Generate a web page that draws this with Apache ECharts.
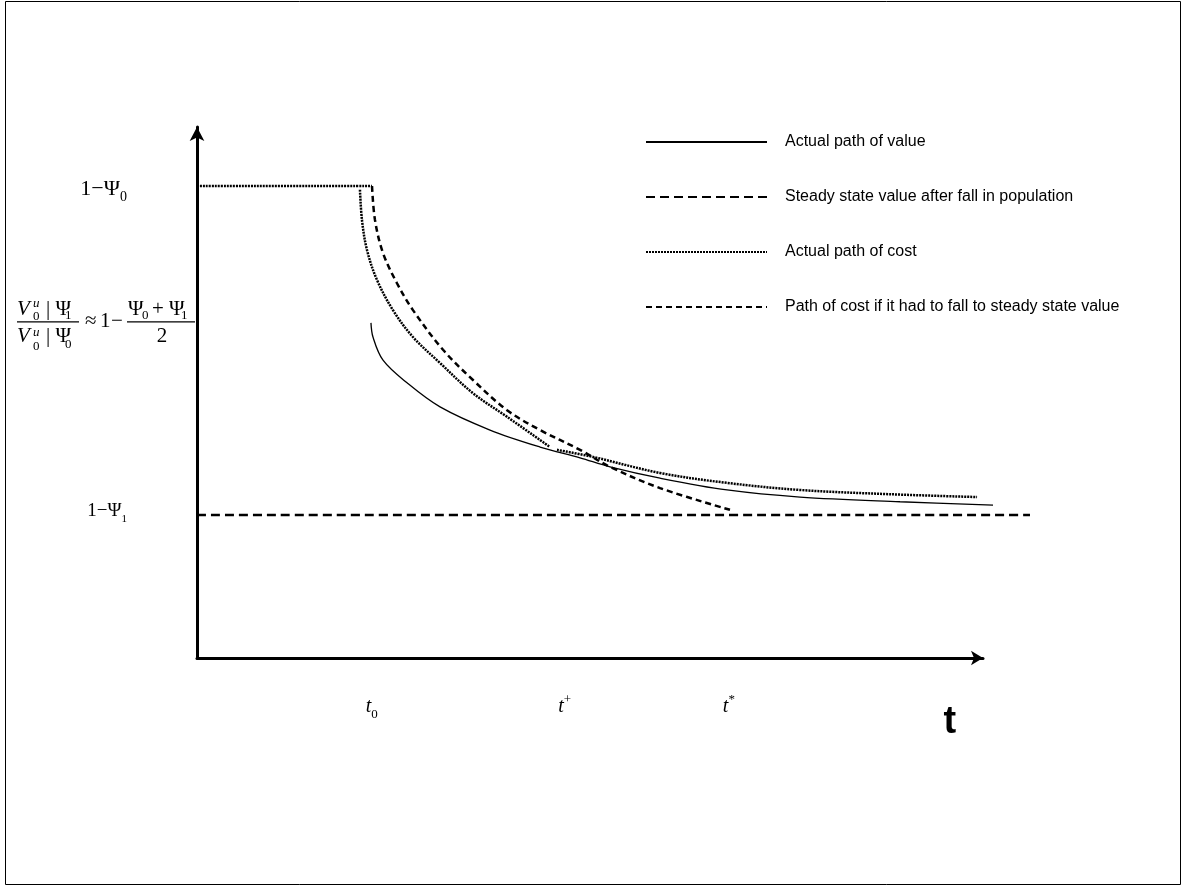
<!DOCTYPE html>
<html><head><meta charset="utf-8">
<script src="https://cdn.jsdelivr.net/npm/echarts@6/dist/echarts.min.js"></script>
<style>html,body{margin:0;padding:0;background:#fff}#c{width:1183px;height:890px}</style>
</head><body><div id="c"></div>
<script>
// ---- data (t in schematic time units, value/cost as share of output) ----
const seriesNames = [
  'Actual path of value',
  'Steady state value after fall in population',
  'Actual path of cost',
  'Path of cost if it had to fall to steady state value'
];
const valueT = [1.992, 2.015, 2.130, 2.405, 2.783, 3.355, 3.928, 4.386, 4.729, 5.302, 6.069, 6.905, 8.050, 9.115];
const valueV = [0.710, 0.680, 0.631, 0.583, 0.532, 0.483, 0.447, 0.424, 0.405, 0.381, 0.356, 0.341, 0.331, 0.324];
const steadyT = [0, 9.538];
const steadyV = [0.303, 0.303];
const costFlatT = [0, 2.004];
const costFlatV = [1.0, 1.0];
const costFallT = [1.866, 1.889, 1.947, 2.061, 2.244, 2.473, 2.783, 3.160, 3.550, 4.042];
const costFallV = [0.992, 0.928, 0.864, 0.801, 0.737, 0.680, 0.625, 0.561, 0.511, 0.447];
const costTailT = [4.122, 4.535, 5.302, 6.069, 6.905, 7.935, 8.932];
const costTailV = [0.441, 0.426, 0.392, 0.371, 0.356, 0.347, 0.341];
const hypoT = [2.004, 2.038, 2.130, 2.290, 2.473, 2.817, 3.160, 3.550, 3.928, 4.386, 4.729, 5.302, 6.103];
const hypoV = [1.000, 0.928, 0.858, 0.794, 0.737, 0.653, 0.589, 0.525, 0.483, 0.441, 0.405, 0.360, 0.314];

const xMax = 9;          // end of the drawn time axis (arrow tip)
const xMaxData = 9.7;    // the plotted paths run a little past the arrow
const yMax = 1.125;
const xTickValues = [2.0, 4.21, 6.09, 8.62];
const xTickLabels = ['{t|t}{sub|0}', '{t|t}{sup|+}', '{t|t}{sup|*}', '{big|t}'];
const yTickValues = [0.993, 0.311];
const yTickLabels = ['{a|1−Ψ}{s|0}', '{b|1−Ψ}{s2|1}'];
const fracLabelValue = 0.712;

const zip = (a, b) => a.map((v, i) => [v, b[i]]);

const chart = echarts.init(document.getElementById('c'), null, {renderer: 'canvas'});
const serif = '"Liberation Serif", "Times New Roman", serif';
const sans = '"Liberation Sans", Arial, sans-serif';

// layout of the axes box
const W = 1183, gLeft = 197, gTop = 127, gBottom = 232, gRight = 200;
const unitPx = (W - gLeft - gRight) / xMax;
const gRightData = W - gLeft - xMaxData * unitPx;

function lineSeries(name, data, lineStyle) {
  return {
    name, type: 'line', data, symbol: 'none', showSymbol: false, smooth: 0.35,
    xAxisIndex: 1, yAxisIndex: 1,
    clip: false, animation: false, silent: true,
    lineStyle: Object.assign({color: '#000'}, lineStyle),
    itemStyle: {color: 'rgba(0,0,0,0)', borderWidth: 0}
  };
}

const option = {
  backgroundColor: '#fff',
  animation: false,
  grid: [
    {left: gLeft, top: gTop, right: gRight, bottom: gBottom, containLabel: false, outerBoundsMode: 'none'},
    {left: gLeft, top: gTop, right: gRightData, bottom: gBottom, containLabel: false, outerBoundsMode: 'none'}
  ],
  legend: {
    data: seriesNames,
    orient: 'vertical', left: 645, top: 134, padding: 0,
    itemWidth: 121, itemHeight: 14, itemGap: 39,
    selectedMode: false,
    itemStyle: {opacity: 0},
    textStyle: {fontFamily: sans, fontSize: 16, color: '#000', padding: [0, 0, 0, 13]}
  },
  xAxis: [{
    type: 'value', min: 0, max: xMax, gridIndex: 0,
    splitLine: {show: false}, axisTick: {show: false},
    axisLine: {show: true, onZero: false, symbol: ['none', 'arrow'], symbolSize: [11, 12],
      lineStyle: {color: '#000', width: 3}},
    axisLabel: {
      customValues: xTickValues, margin: 35, color: '#000',
      formatter: v => { const i = xTickValues.findIndex(x => Math.abs(x - v) < 1e-6); return i >= 0 ? xTickLabels[i] : ''; },
      rich: {
        t: {fontFamily: serif, fontStyle: 'italic', fontSize: 20, lineHeight: 28, color: '#000'},
        sub: {fontFamily: serif, fontSize: 13, lineHeight: 13, verticalAlign: 'bottom', color: '#000'},
        sup: {fontFamily: serif, fontSize: 13, lineHeight: 13, verticalAlign: 'top', color: '#000'},
        big: {fontFamily: sans, fontWeight: 'bold', fontSize: 38, lineHeight: 60, color: '#000'}
      }
    }
  }, {
    type: 'value', min: 0, max: xMaxData, gridIndex: 1, show: false
  }],
  yAxis: [{
    type: 'value', min: 0, max: yMax, gridIndex: 0,
    splitLine: {show: false}, axisTick: {show: false},
    axisLine: {show: true, onZero: false, symbol: ['none', 'arrow'], symbolSize: [11, 14],
      lineStyle: {color: '#000', width: 3}},
    axisLabel: {
      customValues: yTickValues, margin: 70, color: '#000',
      formatter: v => { const i = yTickValues.findIndex(x => Math.abs(x - v) < 1e-6); return i >= 0 ? yTickLabels[i] : ''; },
      rich: {
        a: {fontFamily: serif, fontSize: 22, lineHeight: 30, color: '#000'},
        b: {fontFamily: serif, fontSize: 19, lineHeight: 26, color: '#000'},
        s: {fontFamily: serif, fontSize: 14, lineHeight: 14, verticalAlign: 'bottom', color: '#000'},
        s2: {fontFamily: serif, fontSize: 11, lineHeight: 11, verticalAlign: 'bottom', color: '#000'}
      }
    }
  }, {
    type: 'value', min: 0, max: yMax, gridIndex: 1, show: false
  }],
  series: [
    lineSeries(seriesNames[0], zip(valueT, valueV), {width: 1.3, type: 'solid'}),
    lineSeries(seriesNames[1], zip(steadyT, steadyV), {width: 2.5, type: [9, 5]}),
    lineSeries(seriesNames[2], zip(costFlatT, costFlatV), {width: 2.5, type: [2, 1]}),
    lineSeries(seriesNames[2], zip(costFallT, costFallV), {width: 2.5, type: [2, 1]}),
    lineSeries(seriesNames[2], zip(costTailT, costTailV), {width: 2.5, type: [2, 1]}),
    lineSeries(seriesNames[3], zip(hypoT, hypoV), {width: 2.5, type: [6, 4]})
  ]
};
chart.setOption(option);

// fraction label on the y axis, anchored through the axis scales
const ax = chart.convertToPixel({xAxisIndex: 0}, 0);
const ay = chart.convertToPixel({yAxisIndex: 0}, fracLabelValue);
const fracParts = [
  // [dx, dy, text, style, size, align]
  [-180, -12, 'V', 'italic', 21, 'left'],
  [-164, -18, 'u', 'italic', 13, 'left'],
  [-164, -5, '0', 'normal', 13, 'left'],
  [-151, -12, '| Ψ', 'normal', 21, 'left'],
  [-132, -6, '1', 'normal', 13, 'left'],
  [-180, 15, 'V', 'italic', 21, 'left'],
  [-164, 11, 'u', 'italic', 13, 'left'],
  [-164, 25, '0', 'normal', 13, 'left'],
  [-151, 15, '| Ψ', 'normal', 21, 'left'],
  [-132, 23, '0', 'normal', 13, 'left'],
  [-112, 0, '≈', 'normal', 21, 'left'],
  [-97, 0, '1', 'normal', 21, 'left'],
  [-86, 0, '−', 'normal', 21, 'left'],
  [-69, -12, 'Ψ', 'normal', 21, 'left'],
  [-55, -6, '0', 'normal', 13, 'left'],
  [-45, -12, '+ Ψ', 'normal', 21, 'left'],
  [-16, -6, '1', 'normal', 13, 'left'],
  [-35, 15, '2', 'normal', 21, 'center']
];
const graphics = [{
  type: 'rect', silent: true, z: -10,
  shape: {x: 5.5, y: 1.5, width: 1175, height: 883},
  style: {fill: 'none', stroke: '#000', lineWidth: 1}
}];
fracParts.forEach(p => graphics.push({
  type: 'text', silent: true,
  style: {x: ax + p[0], y: ay + p[1], text: p[2],
    font: p[3] + ' ' + p[4] + 'px ' + serif, fill: '#000', align: p[5], verticalAlign: 'middle'}
}));
[[-180, -118], [-70, -2]].forEach(b => graphics.push({
  type: 'line', silent: true,
  shape: {x1: ax + b[0], y1: ay, x2: ax + b[1], y2: ay},
  style: {stroke: '#000', lineWidth: 1.2}
}));
chart.setOption({graphic: graphics});
</script>
</body></html>
